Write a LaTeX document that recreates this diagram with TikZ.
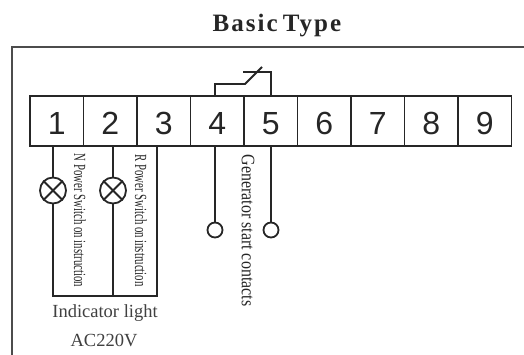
\documentclass[tikz,border=0pt]{standalone}
\usepackage{fontspec}
\setmainfont{Liberation Serif}
\newfontfamily\digitfont{Liberation Sans}
\newfontfamily\narrowfont[FakeStretch=0.635]{Liberation Serif}
\newfontfamily\genfont[FakeStretch=0.84]{Liberation Serif}
\newfontfamily\titlefont[LetterSpace=8]{Liberation Serif}
\usetikzlibrary{positioning}
\tikzset{
  wire/.style={line width=1.8pt,color=black!85},
  terminal/.style={draw=black!85,line width=1.8pt,minimum width=53.5pt,minimum height=50pt,inner sep=0pt,text height=28pt,text depth=0pt,font=\digitfont\fontsize{32}{32}\selectfont,text=black!85},
  lamp/.style={circle,draw=black!85,line width=1.8pt,minimum size=26pt,inner sep=0pt},
  contact/.style={circle,draw=black!85,line width=1.8pt,minimum size=15pt,inner sep=0pt},
  note/.style={rotate=-90,inner sep=0pt,text=black!85},
  caption/.style={inner sep=0pt,text=black!75,font=\fontsize{18.5}{19}\selectfont}
}
\begin{document}
\begin{tikzpicture}[x=1pt,y=-1pt]
    \useasboundingbox (0,0) rectangle (524,355);
    \node[inner sep=0pt,text=black!85,font=\titlefont\bfseries\fontsize{25}{26}\selectfont] (title) at (277,26) {Basic\kern-3pt\ Type};
    \coordinate (F1) at (12,355);
    \coordinate (F2) at (12,47);
    \coordinate (F3) at (524,47);
    \draw [line width=1.5pt,color=black!70] (F1) -- (F2) -- (F3);

    \node[terminal] (T1) at (56.8,121) {1};
    \node[terminal] (T2) at (110.3,121) {2};
    \node[terminal] (T3) at (163.8,121) {3};
    \node[terminal] (T4) at (217.3,121) {4};
    \node[terminal] (T5) at (270.8,121) {5};
    \node[terminal] (T6) at (324.3,121) {6};
    \node[terminal] (T7) at (377.8,121) {7};
    \node[terminal] (T8) at (431.3,121) {8};
    \node[terminal] (T9) at (484.8,121) {9};

    \node[lamp] (L1) at (53,190.5) {};
    \node[lamp] (L2) at (113,190.5) {};
    \draw [wire] (L1.north west) -- (L1.south east);
    \draw [wire] (L1.north east) -- (L1.south west);
    \draw [wire] (L2.north west) -- (L2.south east);
    \draw [wire] (L2.north east) -- (L2.south west);

    \coordinate (B1) at (53,296);
    \coordinate (B2) at (113,296);
    \coordinate (B3) at (157,296);
    \draw [wire] (L1.north) -- (L1.north |- T1.south);
    \draw [wire] (L2.north) -- (L2.north |- T2.south);
    \draw [wire] (L1.south) -- (B1);
    \draw [wire] (L2.south) -- (B2);
    \draw [wire] (B3 |- T3.south) -- (B3);
    \draw [wire,line cap=rect] (B1) -- (B3);

    \node[contact] (C4) at (215,230) {};
    \node[contact] (C5) at (271,230) {};
    \draw [wire] (C4.north) -- (C4.north |- T4.south);
    \draw [wire] (C5.north) -- (C5.north |- T5.south);

    % relay contact above 4 and 5
    \coordinate (R1) at (215,84);
    \coordinate (R2) at (245,84);
    \coordinate (R3) at (262,67);
    \coordinate (R4) at (243,72);
    \coordinate (R5) at (271,72);
    \draw [wire] (R1 |- T4.north) -- (R1) -- (R2) -- (R3);
    \draw [wire] (R4) -- (R5) -- (R5 |- T5.north);

    \node[note,font=\narrowfont\fontsize{17}{18}\selectfont] (N1) at (80,220.5) {N Power Switch on instruction};
    \node[note,font=\narrowfont\fontsize{17}{18}\selectfont] (N2) at (141,220.5) {R Power Switch on instruction};
    \node[note,font=\genfont\fontsize{19}{20}\selectfont] (N3) at (248,230.5) {Generator start contacts};

    \node[caption] (I1) at (105,313) {Indicator light};
    \node[caption] (I2) at (104,340) {AC220V};
  \end{tikzpicture}
\end{document}
